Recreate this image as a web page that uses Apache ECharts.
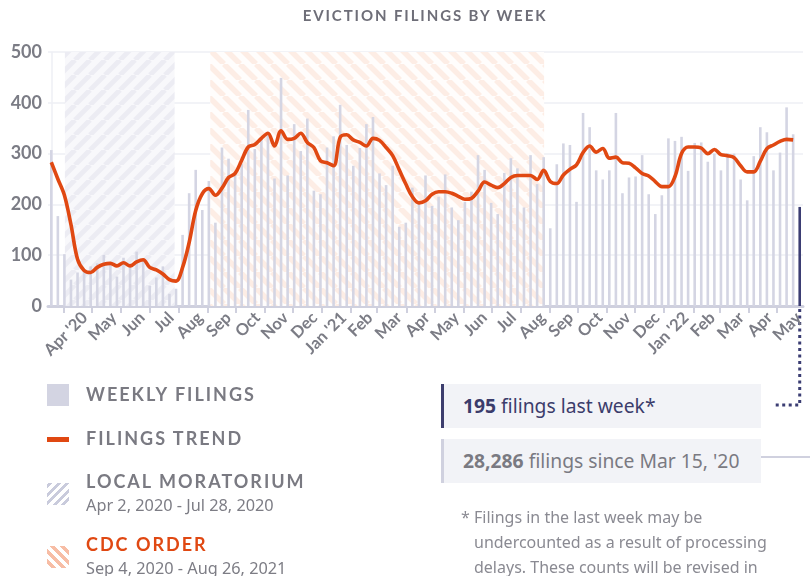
<!DOCTYPE html>
<html>
<head>
<meta charset="utf-8">
<script src="https://cdn.jsdelivr.net/npm/echarts@6/dist/echarts.min.js"></script>
<style>
  body { margin: 0; background: #fff; }
  #wrap { position: relative; width: 810px; height: 576px; overflow: hidden; font-family: 'Noto Sans', sans-serif; }
  #chart { position: absolute; left: 0; top: 0; width: 810px; height: 576px; }

  .title {
    position: absolute; left: 225px; top: 6px; width: 400px; text-align: center;
    font: 700 15px Lato, sans-serif; letter-spacing: 1.9px; color: #6e6e78;
  }

  /* ---- legend ---- */
  .sw { position: absolute; left: 47px; width: 22px; height: 22px; }
  .lt { position: absolute; left: 86px; font: 700 18px Lato, sans-serif; letter-spacing: 2px; color: #7a7a82; line-height: 22px; white-space: nowrap; }
  .ls { position: absolute; left: 86px; font: 400 16.3px 'Noto Sans', sans-serif; color: #7d7d85; line-height: 20px; white-space: nowrap; }

  /* ---- annotation boxes ---- */
  .box { position: absolute; left: 441px; width: 320px; height: 44px; background: #f2f3f7; box-sizing: border-box;
         font: 400 19.3px 'Noto Sans', sans-serif; line-height: 44px; padding-left: 19px; white-space: nowrap; }
  .box b { font-weight: 700; }
  .b1 { top: 384px; border-left: 3px solid #3d3e6e; color: #3b3c6b; }
  .b2 { top: 439px; border-left: 3px solid #d0d1df; color: #7a7a82; }

  .note { position: absolute; left: 461px; top: 505px; width: 345px; white-space: nowrap;
          font: 400 16px 'Noto Sans', sans-serif; line-height: 25px; color: #8a8a92;
          padding-left: 13px; text-indent: -13px; }
</style>
</head>
<body>
<div id="wrap">
  <div id="chart"></div>
  <div class="title">EVICTION FILINGS BY WEEK</div>

  <div class="sw" style="top:384px;background:#d3d4e2"></div>
  <div class="lt" style="top:383px">WEEKLY FILINGS</div>

  <div class="sw" style="top:437px;height:5px;background:#e04812"></div>
  <div class="lt" style="top:427px">FILINGS TREND</div>

  <div class="sw" style="top:483px;background:repeating-linear-gradient(-45deg,#fff 0 3px,#c9cbdc 3px 6px)"></div>
  <div class="lt" style="top:470px">LOCAL MORATORIUM</div>
  <div class="ls" style="top:495px">Apr 2, 2020 - Jul 28, 2020</div>

  <div class="sw" style="top:546px;background:repeating-linear-gradient(45deg,#fff 0 3.5px,#f7bda5 3.5px 7px)"></div>
  <div class="lt" style="top:533px;color:#e04812">CDC ORDER</div>
  <div class="ls" style="top:558px">Sep 4, 2020 - Aug 26, 2021</div>

  <div class="box b1"><b>195</b> filings last week*</div>
  <div class="box b2"><b>28,286</b> filings since Mar 15, '20</div>

  <div class="note">* Filings in the last week may be<br>undercounted as a result of processing<br>delays. These counts will be revised in</div>
</div>

<script>
// ---- data ----
const firstWeek = '2020-03-15'   // week of the first bar

const filings = [
  307, 177, 102, 52, 66, 72, 78, 84, 101, 86, 58, 95, 84, 107, 88, 40, 56, 78, 24, 34,
  140, 222, 268, 189, 246, 164, 312, 290, 260, 280, 386, 309, 330, 340, 251, 449, 257, 358, 305, 369,
  227, 220, 312, 334, 396, 317, 276, 311, 358, 372, 261, 238, 276, 156, 164, 233, 205, 257, 197, 215,
  259, 194, 169, 205, 225, 297, 268, 203, 181, 262, 291, 271, 194, 297, 240, 293, 153, 279, 320, 317,
  205, 380, 352, 267, 249, 267, 380, 222, 253, 255, 297, 220, 181, 218, 330, 325, 333, 266, 321, 322,
  284, 300, 267, 301, 300, 249, 208, 295, 352, 342, 267, 302, 391, 338, 195
]

const trend = [
  283, 250, 218, 160, 92, 70, 66, 76, 82, 84, 79, 85, 79, 87, 91, 76, 71, 63, 52, 49,
  76, 125, 188, 221, 231, 218, 232, 253, 261, 287, 313, 318, 330, 340, 315, 345, 328, 330, 340, 322,
  312, 286, 282, 276, 332, 337, 327, 322, 315, 330, 326, 312, 296, 268, 240, 215, 203, 207, 220, 225,
  225, 222, 216, 210, 212, 226, 244, 238, 233, 241, 253, 257, 257, 257, 249, 267, 245, 241, 258, 269,
  278, 302, 315, 303, 310, 291, 293, 282, 281, 272, 261, 256, 245, 235, 235, 255, 300, 313, 313, 311,
  300, 308, 298, 296, 292, 276, 264, 264, 285, 310, 317, 324, 328, 327
]

const monthLabels = [
  "Apr '20", 'May', 'Jun', 'Jul', 'Aug', 'Sep', 'Oct', 'Nov', 'Dec',
  "Jan '21", 'Feb', 'Mar', 'Apr', 'May', 'Jun', 'Jul', 'Aug', 'Sep', 'Oct', 'Nov', 'Dec',
  "Jan '22", 'Feb', 'Mar', 'Apr', 'May'
]
const firstMonth = [2020, 3]     // Apr 2020 (month is 0-based)

const localMoratorium = ['2020-04-02', '2020-07-28']
const cdcOrder = ['2020-09-04', '2021-08-26']

// ---- date -> position on the weekly scale (bar i sits at i, mid-week) ----
const DAY = 86400000
const t0 = Date.parse(firstWeek + 'T00:00:00Z')
function weekPos(d) {
  const t = typeof d === 'string' ? Date.parse(d + 'T00:00:00Z') : d
  return ((t - t0) / DAY - 3.5) / 7
}

const tickPos = []
for (let m = 0; m <= monthLabels.length; m++) {
  tickPos.push(weekPos(Date.UTC(firstMonth[0], firstMonth[1] + m, 1)))
}
const labelPos = monthLabels.map((_, m) => tickPos[m + 1] - 1.1)
const monthTicks = tickPos.slice(0, monthLabels.length)

function labelFor(v) {
  let best = 0
  labelPos.forEach((p, i) => { if (Math.abs(p - v) < Math.abs(labelPos[best] - v)) best = i })
  return monthLabels[best]
}

// ---- hatch patterns ----
function stripes(bg, fg, dir, size, width) {
  const c = document.createElement('canvas')
  c.width = c.height = size
  const g = c.getContext('2d')
  g.fillStyle = bg
  g.fillRect(0, 0, size, size)
  g.strokeStyle = fg
  g.lineWidth = width
  g.beginPath()
  for (const k of [-1, 0, 1]) {
    if (dir > 0) { g.moveTo(k * size, size); g.lineTo(k * size + size, 0) }
    else { g.moveTo(k * size, 0); g.lineTo(k * size + size, size) }
  }
  g.stroke()
  return c
}

const chart = echarts.init(document.getElementById('chart'))
const axisGray = '#7b7c85'

chart.setOption({
  animation: false,
  grid: { left: 48, right: 7, top: 52, bottom: 270 },
  xAxis: {
    type: 'value', min: -0.5, max: 114.5,
    axisLine: { show: true, onZero: false, lineStyle: { color: '#cfd0de', width: 3 } },
    axisTick: { show: true, customValues: monthTicks, length: 7, lineStyle: { color: '#cfd0de', width: 2 } },
    axisLabel: {
      customValues: labelPos, rotate: 45, margin: 9,
      formatter: v => labelFor(v),
      color: axisGray, fontFamily: 'Lato', fontWeight: 'bold', fontSize: 16.5
    },
    splitLine: { show: false }
  },
  yAxis: {
    type: 'value', min: 0, max: 500, interval: 100,
    axisLine: { show: true, lineStyle: { color: '#eeeff4', width: 1.5 } },
    axisTick: { show: false },
    axisLabel: { margin: 6, color: axisGray, fontFamily: 'Lato', fontWeight: 'bold', fontSize: 18 },
    splitLine: { lineStyle: { color: '#eeeff4', width: 1.5 } }
  },
  series: [
    {
      type: 'line', data: [], z: 1, silent: true,
      markArea: {
        silent: true,
        data: [
          [{ xAxis: weekPos(localMoratorium[0]), itemStyle: { color: { image: stripes('#f8f8fb', '#ececf3', 1, 15, 5), repeat: 'repeat' } } },
           { xAxis: weekPos(localMoratorium[1]) }],
          [{ xAxis: weekPos(cdcOrder[0]), itemStyle: { color: { image: stripes('#fffdfc', '#fdede5', -1, 16, 5.5), repeat: 'repeat' } } },
           { xAxis: weekPos(cdcOrder[1]) }]
        ]
      }
    },
    {
      name: 'Weekly filings', type: 'bar', z: 2, barWidth: 2.6,
      data: filings.map((v, i) => i === filings.length - 1
        ? { value: [i, v], itemStyle: { color: '#3b3d73' } }
        : [i, v]),
      itemStyle: { color: '#d4d5e3' }
    },
    {
      name: 'Filings trend', type: 'line', z: 3, smooth: 0.35, symbol: 'none',
      data: trend.map((v, i) => [i, v]),
      lineStyle: { color: '#e04812', width: 3.6 }
    }
  ]
})

// ---- connector from the last bar to the annotation boxes ----
const base = chart.convertToPixel({ gridIndex: 0 }, [filings.length - 1, 0])
chart.setOption({
  graphic: [
    { type: 'polyline', shape: { points: [[base[0], base[1] + 3], [base[0], 405], [773, 405]] },
      style: { stroke: '#3b3d73', lineWidth: 3, lineDash: [3, 3.5], fill: null } },
    { type: 'line', shape: { x1: 761, y1: 457, x2: 810, y2: 457 },
      style: { stroke: '#d0d1df', lineWidth: 2 } }
  ]
})
</script>
</body>
</html>
